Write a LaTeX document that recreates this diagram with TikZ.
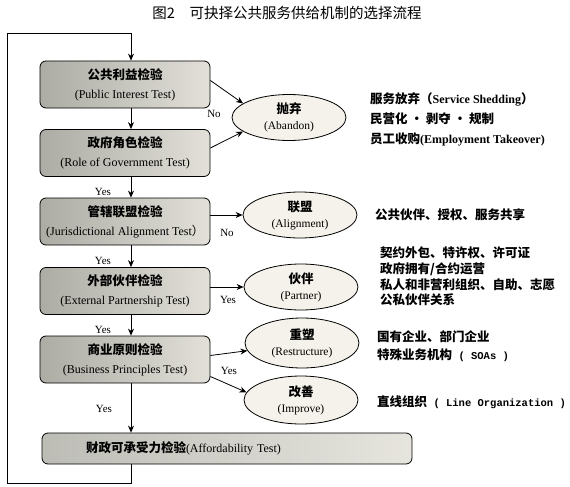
\documentclass[tikz,border=0pt]{standalone}
\usepackage{fontspec}
\setmainfont{Liberation Serif}
\setmonofont{Liberation Mono}
\newfontfamily\cjk{Noto Sans CJK SC}
\usetikzlibrary{arrows.meta,shapes.geometric}
\newcommand{\zhb}[1]{{\cjk\bfseries\fontsize{12.5}{12.5}\selectfont #1}}
\definecolor{boxdark}{RGB}{172,172,164}
\definecolor{boxlight}{RGB}{226,224,216}
\definecolor{ovalfill}{RGB}{244,242,234}

\begin{document}
\begin{tikzpicture}[x=1pt, y=-1pt,
    testbox/.style={draw, rounded corners=6pt, line width=0.8pt, left color=boxdark, right color=boxlight, minimum width=170pt, minimum height=47pt, align=center, inner sep=0pt, font=\fontsize{12}{19}\selectfont},
    ovalbox/.style={ellipse, draw, line width=0.8pt, fill=ovalfill, minimum width=114pt, minimum height=46pt, align=center, inner sep=0pt, font=\fontsize{11.5}{16}\selectfont},
    arr/.style={-{Stealth[length=7pt,width=6pt]}, line width=0.8pt, black},
    lbl/.style={font=\fontsize{11}{13}\selectfont, inner sep=0pt},
    note/.style={anchor=west, align=left, inner sep=0pt},
]
\useasboundingbox (0,0) rectangle (570,487);

\node[font=\cjk\fontsize{14.5}{15}\selectfont] (title) at (287,13) {图2\quad 可抉择公共服务供给机制的选择流程};

% tests
\node[testbox] (pub) at (125,84.5) {\zhb{公共利益检验}\\(Public Interest Test)};
\node[testbox] (gov) at (125,153) {\zhb{政府角色检验}\\(Role of Government Test)};
\node[testbox] (jur) at (125,221.5) {\zhb{管辖联盟检验}\\(Jurisdictional Alignment Test{\cjk ）}};
\node[testbox] (ext) at (125,291) {\zhb{外部伙伴检验}\\(External Partnership Test)};
\node[testbox] (bus) at (125,359.5) {\zhb{商业原则检验}\\(Business Principles Test)};
\node[testbox, minimum width=370pt, minimum height=31pt, text width=282pt, inner xsep=44pt, align=left, left color=boxdark!80, right color=boxlight!85] (fin) at (227,448.5) {\zhb{财政可承受力检验}(Affordability Test)};

% outcomes
\node[ovalbox] (aband) at (289,117.5) {\zhb{抛弃}\\(Abandon)};
\node[ovalbox] (align) at (300,215) {\zhb{联盟}\\(Alignment)};
\node[ovalbox] (part) at (301,287) {\zhb{伙伴}\\(Partner)};
\node[ovalbox, minimum height=50pt] (restr) at (302,343) {\zhb{重塑}\\(Restructure)};
\node[ovalbox, minimum height=48pt] (impr) at (301,400) {\zhb{改善}\\(Improve)};

% main line and loop
\coordinate (spine) at (131,0);
\coordinate (loopbot) at (7,483);
\coordinate (looptop) at (7,33);
\draw[arr] (fin.south -| spine) |- (loopbot) -- (looptop) -| (pub.north -| spine);
\draw[arr] (pub.south -| spine) -- (gov.north -| spine);
\draw[arr] (gov.south -| spine) -- (jur.north -| spine);
\draw[arr] (jur.south -| spine) -- (ext.north -| spine);
\draw[arr] (ext.south -| spine) -- (bus.north -| spine);
\draw[arr] (bus.south -| spine) -- (fin.north -| spine);

\draw[arr] ([yshift=4pt]pub.east) -- (aband.163);
\draw[arr] ([yshift=5pt]gov.east) -- (aband.197);
\draw[arr] (jur.east |- align) -- (align);
\draw[arr] (ext.east |- part) -- (part);
\draw[arr] ([yshift=4pt]bus.east) -- (restr.188);
\draw[arr] ([yshift=-17pt]bus.east) -- (impr.172);

\node[lbl] at (103,192) {Yes};
\node[lbl] at (103,261) {Yes};
\node[lbl] at (103,330) {Yes};
\node[lbl] at (104,409) {Yes};
\node[lbl] at (214,114) {No};
\node[lbl] at (227,233) {No};
\node[lbl] at (228,300) {Yes};
\node[lbl] at (229,371) {Yes};

% mechanisms
\node[note, font=\bfseries\fontsize{12}{20}\selectfont] (shed) at (370,119) {\zhb{服务放弃（}Service Shedding\zhb{）}\\\zhb{民营化 · 剥夺 · 规制}\\\zhb{员工收购}(Employment Takeover)};
\node[note, font=\bfseries\fontsize{13}{16}\selectfont] (share) at (375,215) {\zhb{公共伙伴、授权、服务共享}};
\node[note, font=\bfseries\fontsize{13}{15.7}\selectfont] (contr) at (380,276.5) {\zhb{契约外包、特许权、许可证}\\\zhb{政府拥有/合约运营}\\\zhb{私人和非营利组织、自助、志愿}\\\zhb{公私伙伴关系}};
\node[note, font=\bfseries\fontsize{13}{18}\selectfont] (soe) at (377,346) {\zhb{国有企业、部门企业}\\\zhb{特殊业务机构}{\fontsize{10.5}{18}\selectfont\ttfamily\ ( SOAs )}};
\node[note, font=\bfseries\fontsize{13}{16}\selectfont] (line) at (377,402) {\zhb{直线组织}{\fontsize{10.5}{16}\selectfont\ttfamily\ ( Line Organization )}};
\end{tikzpicture}
\end{document}
